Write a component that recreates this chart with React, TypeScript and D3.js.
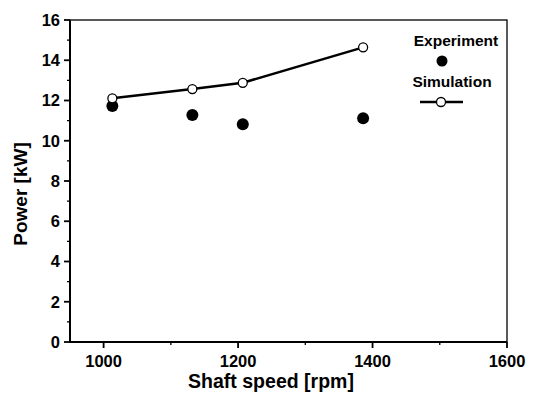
import React from "react";
import * as d3 from "d3";

const speedExp = [1013, 1132, 1207, 1386];
const powerExp = [11.73, 11.28, 10.82, 11.12];
const speedSim = [1013, 1132, 1207, 1386];
const powerSim = [12.11, 12.57, 12.88, 14.64];
const xTicks = [1000, 1200, 1400, 1600];
const xMinor = [1100, 1300, 1500];
const yTicks = [0, 2, 4, 6, 8, 10, 12, 14, 16];
const yMinor = [1, 3, 5, 7, 9, 11, 13, 15];

const W = 539, H = 394;
const L = 70, R = 507, T = 20, B = 342;
const font = "'Liberation Sans', Arial, sans-serif";

export default function App() {
  const x = d3.scaleLinear().domain([950, 1600]).range([L, R]);
  const y = d3.scaleLinear().domain([0, 16]).range([B, T]);
  const line = d3.line<number>().x((_, i) => x(speedSim[i])).y(d => y(d));
  return (
    <svg width={W} height={H} style={{ position: "absolute", left: 0, top: 0, background: "#fff" }}>
      <rect x={L} y={T} width={R - L} height={B - T} fill="none" stroke="#000" strokeWidth={1.3} />
      <line x1={L} x2={L} y1={T} y2={B} stroke="#000" strokeWidth={2} />
      <line x1={L} x2={R} y1={B} y2={B} stroke="#000" strokeWidth={2} />
      {yTicks.map(t => (
        <g key={"y" + t}>
          <line x1={L - 6} x2={L} y1={y(t)} y2={y(t)} stroke="#000" strokeWidth={1.8} />
          <text x={L - 10} y={y(t)} dy="0.36em" textAnchor="end" fontFamily={font} fontWeight="bold" fontSize={16.5}>{t}</text>
        </g>
      ))}
      {yMinor.map(t => (
        <line key={"ym" + t} x1={L - 3} x2={L} y1={y(t)} y2={y(t)} stroke="#000" strokeWidth={1.3} />
      ))}
      {xTicks.map(t => (
        <g key={"x" + t}>
          <line x1={x(t)} x2={x(t)} y1={B} y2={B + 6} stroke="#000" strokeWidth={1.8} />
          <text x={x(t)} y={B + 19} dy="0.36em" textAnchor="middle" fontFamily={font} fontWeight="bold" fontSize={16.5}>{t}</text>
        </g>
      ))}
      {xMinor.map(t => (
        <line key={"xm" + t} x1={x(t)} x2={x(t)} y1={B} y2={B + 3} stroke="#000" strokeWidth={1.3} />
      ))}
      <text x={271} y={388} textAnchor="middle" fontFamily={font} fontWeight="bold" fontSize={19.5}>Shaft speed [rpm]</text>
      <text transform={`translate(27,194) rotate(-90)`} textAnchor="middle" fontFamily={font} fontWeight="bold" fontSize={19}>Power [kW]</text>
      {powerExp.map((p, i) => (
        <circle key={"e" + i} cx={x(speedExp[i])} cy={y(p)} r={6} fill="#000" />
      ))}
      <path d={line(powerSim) || ""} fill="none" stroke="#000" strokeWidth={2.5} />
      {powerSim.map((p, i) => (
        <circle key={"s" + i} cx={x(speedSim[i])} cy={y(p)} r={4.5} fill="#fff" stroke="#000" strokeWidth={1.3} />
      ))}
      <text x={456} y={46} textAnchor="middle" fontFamily={font} fontWeight="bold" fontSize={15.5}>Experiment</text>
      <circle cx={442} cy={61} r={5.5} fill="#000" />
      <text x={452} y={87} textAnchor="middle" fontFamily={font} fontWeight="bold" fontSize={15.5}>Simulation</text>
      <line x1={420} x2={463} y1={102} y2={102} stroke="#000" strokeWidth={2.5} />
      <circle cx={441} cy={102} r={4.5} fill="#fff" stroke="#000" strokeWidth={1.3} />
    </svg>
  );
}
